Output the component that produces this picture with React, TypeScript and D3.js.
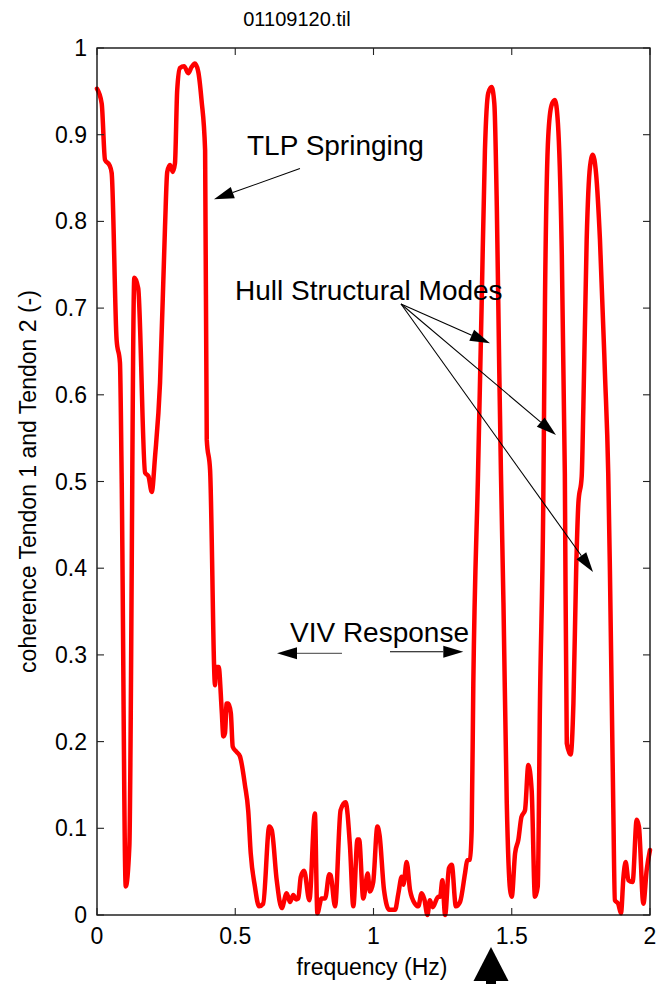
import React from "react";
import * as d3 from "d3";

// Coherence between tendon 1 and tendon 2 tension records, file 01109120.til
const freqHz = [
  0.0, 0.017, 0.029, 0.045, 0.053, 0.071, 0.083, 0.089, 0.104, 0.117, 0.135, 0.149,
  0.174, 0.186, 0.198, 0.21, 0.228, 0.246, 0.254, 0.264, 0.274, 0.282, 0.29, 0.3,
  0.315, 0.33, 0.342, 0.354, 0.366, 0.378, 0.391, 0.397, 0.409, 0.427, 0.43, 0.44,
  0.451, 0.457, 0.463, 0.469, 0.475, 0.484, 0.491, 0.505, 0.517, 0.535, 0.547, 0.556,
  0.571, 0.586, 0.601, 0.623, 0.632, 0.65, 0.668, 0.686, 0.698, 0.71, 0.72, 0.728,
  0.737, 0.749, 0.768, 0.788, 0.797, 0.812, 0.825, 0.84, 0.845, 0.861, 0.881, 0.899,
  0.915, 0.927, 0.942, 0.948, 0.963, 0.979, 0.987, 0.999, 1.014, 1.022, 1.038, 1.057,
  1.078, 1.09, 1.102, 1.108, 1.12, 1.132, 1.15, 1.162, 1.174, 1.184, 1.195, 1.204,
  1.214, 1.234, 1.241, 1.249, 1.259, 1.273, 1.283, 1.298, 1.313, 1.331, 1.339, 1.349,
  1.355, 1.361, 1.378, 1.391, 1.403, 1.415, 1.427, 1.437, 1.446, 1.455, 1.461, 1.47,
  1.482, 1.494, 1.5, 1.512, 1.524, 1.535, 1.548, 1.56, 1.572, 1.584, 1.594, 1.602,
  1.614, 1.62, 1.632, 1.644, 1.656, 1.667, 1.68, 1.692, 1.699, 1.713, 1.723, 1.733,
  1.741, 1.753, 1.759, 1.771, 1.783, 1.793, 1.805, 1.819, 1.837, 1.849, 1.855, 1.867,
  1.873, 1.885, 1.895, 1.904, 1.912, 1.922, 1.937, 1.952, 1.96, 1.976, 1.988, 2.0,
];

const coherence = [
  0.953, 0.936, 0.871, 0.865, 0.856, 0.663, 0.637, 0.51, 0.033, 0.079, 0.735, 0.723,
  0.51, 0.506, 0.488, 0.529, 0.614, 0.794, 0.857, 0.865, 0.857, 0.867, 0.951, 0.977,
  0.979, 0.971, 0.978, 0.982, 0.973, 0.94, 0.882, 0.548, 0.513, 0.265, 0.286, 0.286,
  0.236, 0.206, 0.21, 0.244, 0.244, 0.233, 0.194, 0.188, 0.183, 0.15, 0.12, 0.071,
  0.033, 0.01, 0.013, 0.102, 0.098, 0.04, 0.008, 0.025, 0.015, 0.023, 0.018, 0.019,
  0.044, 0.051, 0.017, 0.117, 0.002, 0.019, 0.019, 0.047, 0.046, 0.01, 0.121, 0.13,
  0.079, 0.01, 0.087, 0.087, 0.019, 0.048, 0.027, 0.038, 0.102, 0.092, 0.029, 0.006,
  0.006, 0.025, 0.044, 0.035, 0.061, 0.029, 0.013, 0.01, 0.025, 0.018, 0.0, 0.017,
  0.009, 0.021, 0.021, 0.04, 0.0, 0.054, 0.058, 0.01, 0.015, 0.048, 0.063, 0.064,
  0.098, 0.267, 0.509, 0.702, 0.882, 0.948, 0.955, 0.936, 0.817, 0.625, 0.509, 0.36,
  0.129, 0.029, 0.021, 0.071, 0.087, 0.113, 0.121, 0.173, 0.144, 0.021, 0.033, 0.244,
  0.475, 0.702, 0.898, 0.934, 0.94, 0.913, 0.779, 0.509, 0.198, 0.185, 0.244, 0.398,
  0.475, 0.506, 0.586, 0.779, 0.863, 0.877, 0.855, 0.779, 0.625, 0.509, 0.398, 0.129,
  0.017, 0.013, 0.002, 0.044, 0.061, 0.04, 0.038, 0.11, 0.102, 0.013, 0.052, 0.075,
];

const xTicks = [0, 0.5, 1, 1.5, 2];
const xTickLabels = ["0", "0.5", "1", "1.5", "2"];
const yTicks = [0, 0.1, 0.2, 0.3, 0.4, 0.5, 0.6, 0.7, 0.8, 0.9, 1];
const yTickLabels = ["0", "0.1", "0.2", "0.3", "0.4", "0.5", "0.6", "0.7", "0.8", "0.9", "1"];

const titleText = "01109120.til";
const xLabelText = "frequency (Hz)";
const yLabelText = "coherence Tendon 1 and Tendon 2 (-)";

// Annotations in data units: [freq, coherence]
const tlpLabel = { text: "TLP Springing", at: [0.5425, 0.8766] };
const tlpArrow = { from: [0.734, 0.861], to: [0.423, 0.8255] };
const hullLabel = { text: "Hull Structural Modes", at: [0.499, 0.7093] };
const hullArrowFrom = [1.0995, 0.7047];
const hullArrowTips = [
  [1.4213, 0.6594],
  [1.66, 0.5536],
  [1.7939, 0.3956],
];
const vivLabel = { text: "VIV Response", at: [0.698, 0.3149] };
const vivLeftArrow = { from: [0.886, 0.3018], to: [0.651, 0.3018] };
const vivRightArrow = { from: [1.0597, 0.3037], to: [1.3248, 0.3037] };
const markerFreq = 1.425;

const W = 656;
const H = 984;
const M = { left: 97, right: 650, top: 48, bottom: 915 };
const FONT = "'Liberation Sans', Arial, Helvetica, sans-serif";

type Pt = number[];

function Arrow({
  x1, y1, x2, y2, headLen = 20, headHalf = 6, color = "#000", lineColor,
}: {
  x1: number; y1: number; x2: number; y2: number;
  headLen?: number; headHalf?: number; color?: string; lineColor?: string;
}) {
  const dx = x2 - x1;
  const dy = y2 - y1;
  const len = Math.hypot(dx, dy);
  const ux = dx / len;
  const uy = dy / len;
  const bx = x2 - ux * headLen;
  const by = y2 - uy * headLen;
  const px = -uy;
  const py = ux;
  const pts = [
    [x2, y2],
    [bx + px * headHalf, by + py * headHalf],
    [bx - px * headHalf, by - py * headHalf],
  ];
  return (
    <g>
      <line x1={x1} y1={y1} x2={bx} y2={by} stroke={lineColor ?? color} strokeWidth={1.1} />
      <polygon points={pts.map((p) => p.join(",")).join(" ")} fill={color} />
    </g>
  );
}

export default function App() {
  const x = d3.scaleLinear().domain([0, 2]).range([M.left, M.right]);
  const y = d3.scaleLinear().domain([0, 1]).range([M.bottom, M.top]);

  const data = freqHz.map((f, i) => [f, coherence[i]] as [number, number]);
  const line = d3
    .line<[number, number]>()
    .x((d) => x(d[0]))
    .y((d) => y(d[1]))
    .curve(d3.curveMonotoneX);

  const tick = 7;
  const px = (p: Pt) => [x(p[0]), y(p[1])];

  const mx = x(markerFreq);
  const markerTop = 947;
  const markerBase = 981;

  return (
    <svg
      width={W}
      height={H}
      viewBox={`0 0 ${W} ${H}`}
      style={{ position: "absolute", left: 0, top: 0, background: "#fff" }}
      fontFamily={FONT}
    >
      <rect x={0} y={0} width={W} height={H} fill="#fff" />

      {/* coherence trace */}
      <path
        d={line(data) ?? ""}
        fill="none"
        stroke="#ff0000"
        strokeWidth={4.5}
        strokeLinejoin="round"
        strokeLinecap="round"
      />

      {/* axes box */}
      <rect
        x={M.left}
        y={M.top}
        width={M.right - M.left}
        height={M.bottom - M.top}
        fill="none"
        stroke="#000"
        strokeWidth={1.3}
      />

      {/* ticks on all four sides */}
      {xTicks.map((t) => (
        <g key={`xt${t}`} stroke="#222" strokeWidth={1.1}>
          <line x1={x(t)} x2={x(t)} y1={M.bottom} y2={M.bottom - tick} />
          <line x1={x(t)} x2={x(t)} y1={M.top} y2={M.top + tick} />
        </g>
      ))}
      {yTicks.map((t) => (
        <g key={`yt${t}`} stroke="#222" strokeWidth={1.1}>
          <line x1={M.left} x2={M.left + tick} y1={y(t)} y2={y(t)} />
          <line x1={M.right} x2={M.right - tick} y1={y(t)} y2={y(t)} />
        </g>
      ))}

      {/* tick labels */}
      {xTicks.map((t, i) => (
        <text
          key={`xl${t}`}
          x={x(t)}
          y={944}
          fontSize={23}
          textAnchor="middle"
          fill="#000"
        >
          {xTickLabels[i]}
        </text>
      ))}
      {yTicks.map((t, i) => (
        <text
          key={`yl${t}`}
          x={87}
          y={y(t) + 8}
          fontSize={23}
          textAnchor="end"
          fill="#000"
        >
          {yTickLabels[i]}
        </text>
      ))}

      {/* title and axis labels */}
      <text x={297} y={26} fontSize={20} textAnchor="middle" fill="#000">
        {titleText}
      </text>
      <text x={372} y={975} fontSize={23} textAnchor="middle" fill="#000">
        {xLabelText}
      </text>
      <text
        transform={`translate(36,${(M.top + M.bottom) / 2}) rotate(-90)`}
        fontSize={23}
        textAnchor="middle"
        fill="#000"
      >
        {yLabelText}
      </text>

      {/* annotations */}
      <text x={x(tlpLabel.at[0])} y={y(tlpLabel.at[1])} fontSize={28} fill="#000">
        {tlpLabel.text}
      </text>
      <Arrow
        x1={px(tlpArrow.from)[0]}
        y1={px(tlpArrow.from)[1]}
        x2={px(tlpArrow.to)[0]}
        y2={px(tlpArrow.to)[1]}
      />

      <text x={x(hullLabel.at[0])} y={y(hullLabel.at[1])} fontSize={28} fill="#000">
        {hullLabel.text}
      </text>
      {hullArrowTips.map((tip, i) => (
        <Arrow
          key={`ha${i}`}
          x1={px(hullArrowFrom)[0]}
          y1={px(hullArrowFrom)[1]}
          x2={px(tip)[0]}
          y2={px(tip)[1]}
        />
      ))}

      <text x={x(vivLabel.at[0])} y={y(vivLabel.at[1])} fontSize={28} fill="#000">
        {vivLabel.text}
      </text>
      <Arrow
        x1={px(vivLeftArrow.from)[0]}
        y1={px(vivLeftArrow.from)[1]}
        x2={px(vivLeftArrow.to)[0]}
        y2={px(vivLeftArrow.to)[1]}
        lineColor="#666"
      />
      <Arrow
        x1={px(vivRightArrow.from)[0]}
        y1={px(vivRightArrow.from)[1]}
        x2={px(vivRightArrow.to)[0]}
        y2={px(vivRightArrow.to)[1]}
      />

      {/* frequency marker below the axis */}
      <polygon
        points={`${mx},${markerTop} ${mx - 17.5},${markerBase} ${mx + 17.5},${markerBase}`}
        fill="#000"
      />
      <rect x={mx - 5} y={markerBase - 1} width={10} height={H - markerBase + 1} fill="#000" />
    </svg>
  );
}
